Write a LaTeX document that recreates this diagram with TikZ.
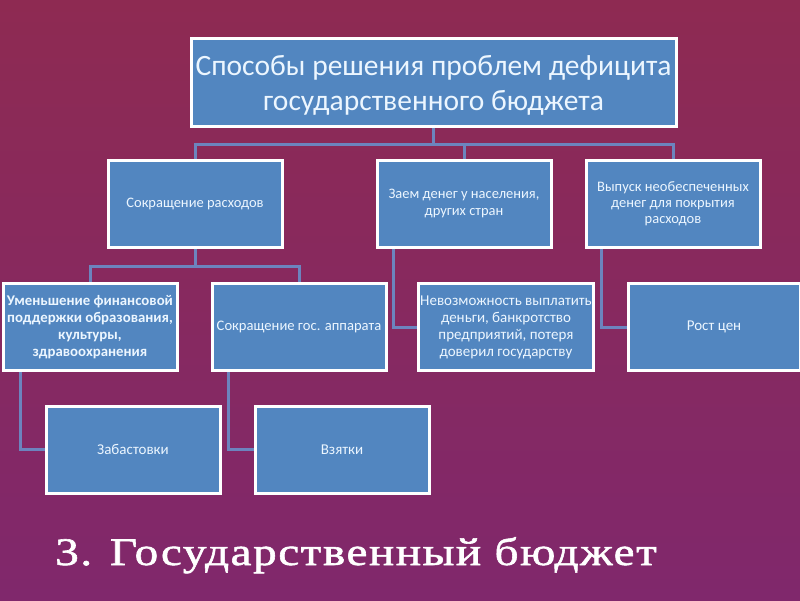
\documentclass[tikz,border=0pt]{standalone}
\usepackage{fontspec}
\setmainfont{Carlito}
\newfontfamily\titlefont[FakeStretch=1.21, LetterSpace=4, FakeBold=1.5]{Liberation Serif}
\definecolor{bgtop}{RGB}{142,42,82}
\definecolor{bgbot}{RGB}{128,40,108}
\definecolor{boxfill}{RGB}{82,134,192}
\definecolor{linkc}{RGB}{108,132,190}
\definecolor{txtc}{RGB}{236,246,255}
\pgfdeclarelayer{bglayer}
\pgfdeclarelayer{linklayer}
\pgfsetlayers{bglayer,linklayer,main}
\tikzset{
  box/.style={draw=white, line width=3pt, fill=boxfill, text=txtc, align=center,
    minimum width=174pt, minimum height=87pt, inner sep=2pt, font=\fontsize{14.5}{17}\selectfont},
  midbox/.style={box, font=\fontsize{15}{17}\selectfont},
  link/.style={draw=linkc, line width=3pt}
}
\begin{document}
\begin{tikzpicture}[x=1pt,y=-1pt]
\useasboundingbox (0,0) rectangle (800,600);
\begin{pgfonlayer}{bglayer}
\shade[top color=bgtop, bottom color=bgbot] (0,0) rectangle (800,600);
\end{pgfonlayer}
% nodes
\node[box, minimum width=485pt, minimum height=88pt] (top) at (433.5,82) {};
\node[text=txtc, align=center, inner sep=0pt, font=\fontsize{29.5}{35}\selectfont] (toptext) at ([yshift=-3pt]top.center) {Способы решения проблем дефицита\\государственного бюджета};
\node[box] (l2a) at (195,203.5) {Сокращение расходов};
\node[box] (l2b) at (464,203.5) {Заем денег у населения,\\других стран};
\node[box, font=\fontsize{14.5}{16}\selectfont] (l2c) at (673,203.5) {Выпуск необеспеченных\\денег для покрытия\\расходов};
\node[midbox, font=\fontsize{14.8}{17}\selectfont\bfseries] (l3a) at (90,327) {Уменьшение финансовой\\поддержки образования,\\культуры,\\здравоохранения};
\node[midbox, font=\fontsize{14.6}{17}\selectfont] (l3b) at (299,327) {Сокращение гос. аппарата};
\node[midbox] (l3c) at (506,327) {Невозможность выплатить\\деньги, банкротство\\предприятий, потеря\\доверил государству};
\node[midbox, minimum width=172pt] (l3d) at (714,327) {Рост цен};
\node[box, font=\fontsize{15}{17}\selectfont] (l4a) at (133,449.5) {Забастовки};
\node[box, font=\fontsize{15}{17}\selectfont] (l4b) at (342,449.5) {Взятки};
\node[text=white, anchor=base west, inner sep=0pt, font=\titlefont\fontsize{39}{44}\selectfont] (title) at (55,565) {3. Государственный бюджет};
% connectors
\begin{pgfonlayer}{linklayer}
\draw[link] (top.south) -- ++(0,17) -| (l2a.north);
\draw[link] (top.south) -- ++(0,17) -| (l2b.north);
\draw[link] (top.south) -- ++(0,17) -| (l2c.north);
\draw[link] (l2a.south) -- ++(0,18) -| (l3a.north);
\draw[link] (l2a.south) -- ++(0,18) -| (l3b.north);
\draw[link] ([xshift=18pt]l2b.south west) |- (l3c.west);
\draw[link] ([xshift=17pt]l2c.south west) |- (l3d.west);
\draw[link] ([xshift=19pt]l3a.south west) |- (l4a.west);
\draw[link] ([xshift=18pt]l3b.south west) |- (l4b.west);
\end{pgfonlayer}
\end{tikzpicture}
\end{document}
